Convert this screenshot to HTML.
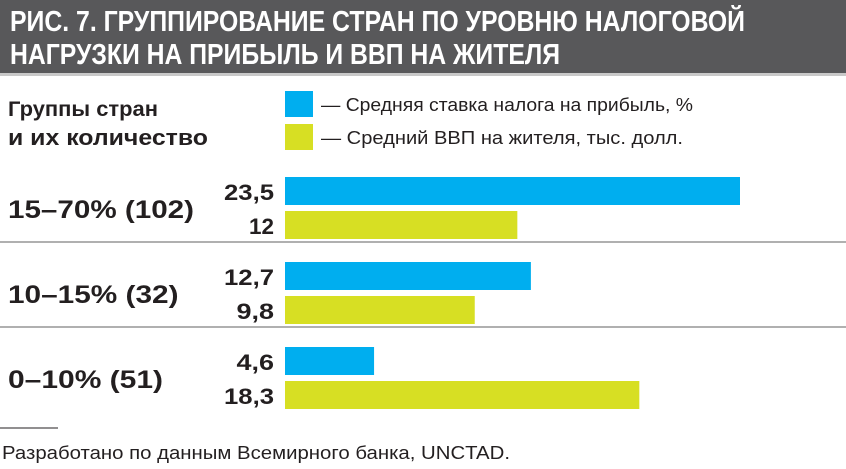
<!DOCTYPE html>
<html><head><meta charset="utf-8"><style>
html,body{margin:0;padding:0;background:#fff;}
svg{display:block;font-family:"Liberation Sans",sans-serif;}
</style></head><body>
<svg id="chart" width="846" height="469" viewBox="0 0 846 469">
<rect x="0" y="0" width="846" height="73" fill="#58585a"/>
<rect x="0" y="73" width="846" height="3" fill="#c8c8c8"/>
<text x="10" y="31" font-size="29" font-weight="bold" fill="#fff" textLength="735" lengthAdjust="spacingAndGlyphs">РИС. 7. ГРУППИРОВАНИЕ СТРАН ПО УРОВНЮ НАЛОГОВОЙ</text>
<text x="10" y="64" font-size="29" font-weight="bold" fill="#fff" textLength="550" lengthAdjust="spacingAndGlyphs">НАГРУЗКИ НА ПРИБЫЛЬ И ВВП НА ЖИТЕЛЯ</text>
<text x="8" y="116" font-size="21" font-weight="bold" fill="#231f20" textLength="150" lengthAdjust="spacingAndGlyphs">Группы стран</text>
<text x="8" y="145" font-size="22" font-weight="bold" fill="#231f20" textLength="200" lengthAdjust="spacingAndGlyphs">и их количество</text>
<rect x="285" y="91" width="28" height="26" fill="#00aeef"/>
<text x="321" y="111" font-size="18" fill="#231f20" textLength="372" lengthAdjust="spacingAndGlyphs">— Средняя ставка налога на прибыль, %</text>
<rect x="285" y="124" width="28" height="26" fill="#d7df23"/>
<text x="321" y="144" font-size="18" fill="#231f20" textLength="362" lengthAdjust="spacingAndGlyphs">— Средний ВВП на жителя, тыс. долл.</text>
<g id="bars"></g>
<line x1="0" y1="428" x2="58" y2="428" stroke="#231f20" stroke-width="1"/>
<text x="2" y="459" font-size="18" fill="#231f20" textLength="508" lengthAdjust="spacingAndGlyphs">Разработано по данным Всемирного банка, UNCTAD.</text>
</svg>
<script>
const categories = ["15–70% (102)", "10–15% (32)", "0–10% (51)"];
const taxValues = [23.5, 12.7, 4.6];
const gdpValues = [12, 9.8, 18.3];
const taxLabels = ["23,5", "12,7", "4,6"];
const gdpLabels = ["12", "9,8", "18,3"];

const NS = "http://www.w3.org/2000/svg";
const g = document.getElementById("bars");
const x0 = 285, pxPerUnit = 455 / 23.5;
function xs(v){ return v * pxPerUnit; }
function groupTop(i){ return 177 + i * 85; }
function mk(tag, attrs){ const e = document.createElementNS(NS, tag); for (const k in attrs) e.setAttribute(k, attrs[k]); g.appendChild(e); return e; }
function lblLen(s){ return s.length * 12.5; }

categories.forEach((c, i) => {
  const y = groupTop(i);
  const lab = mk("text", {x: 8, y: y + 41, "font-size": 25, "font-weight": "bold", fill: "#231f20", textLength: c.length * 15.5, lengthAdjust: "spacingAndGlyphs"});
  lab.textContent = c;
  
  

  const b1 = mk("rect", {x: x0, y: y, width: xs(taxValues[i]), height: 28, fill: "#00aeef"});
  
  
  const b2 = mk("rect", {x: x0, y: y + 34, width: xs(gdpValues[i]), height: 28, fill: "#d7df23"});
  
  

  const t1 = mk("text", {x: 274, y: y + 23, "font-size": 22, "font-weight": "bold", fill: "#231f20", "text-anchor": "end", textLength: lblLen(taxLabels[i]), lengthAdjust: "spacingAndGlyphs"});
  t1.textContent = taxLabels[i];
  
  
  const t2 = mk("text", {x: 274, y: y + 57, "font-size": 22, "font-weight": "bold", fill: "#231f20", "text-anchor": "end", textLength: lblLen(gdpLabels[i]), lengthAdjust: "spacingAndGlyphs"});
  t2.textContent = gdpLabels[i];
  
  

  if (i < categories.length - 1) {
    const ln = mk("line", {x1: 0, x2: 846, y1: y + 65, y2: y + 65, stroke: "#b0b0b0", "stroke-width": 2});
    
    
  }
});
</script>
</body></html>
